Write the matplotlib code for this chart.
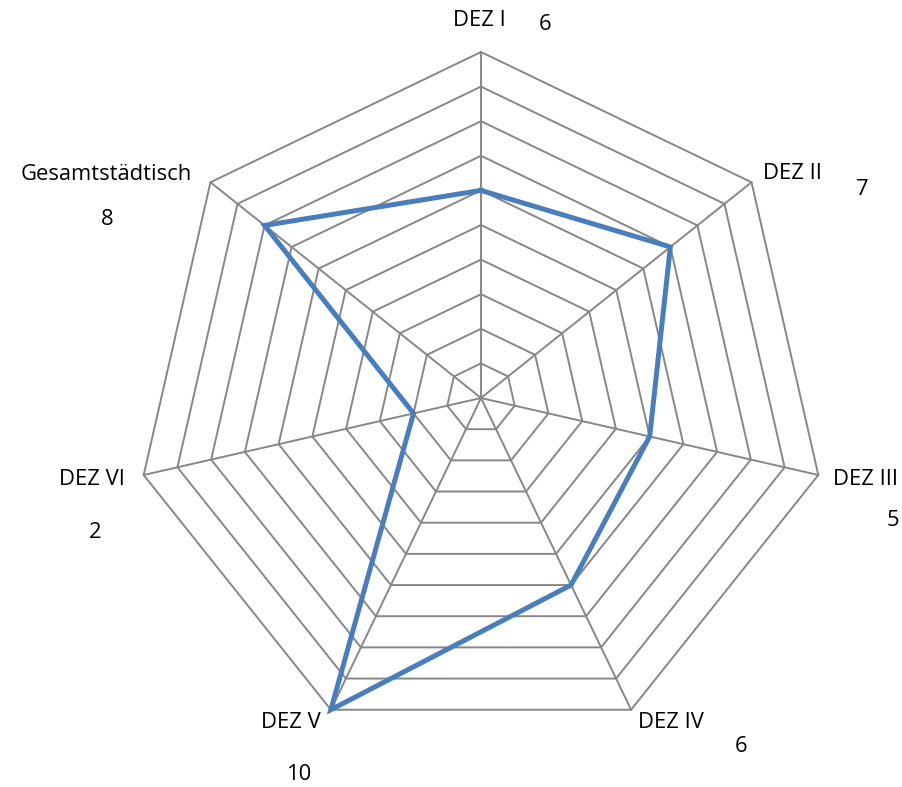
import matplotlib
matplotlib.use("Agg")
import matplotlib.pyplot as plt
import numpy as np

# chart data
categories = ["DEZ I", "DEZ II", "DEZ III", "DEZ IV", "DEZ V", "DEZ VI", "Gesamtstädtisch"]
values = [6, 7, 5, 6, 10, 2, 8]
rmax = 10

# label offsets (pixels) from each outer vertex: name, value
name_off = [(-2, 31), (41, 9), (47, -5), (40, -13), (-40, -13), (-52, -5), (-104, 8)]
val_off = [(64, 27), (111, -7), (75, -46), (110, -37), (-32, -65), (-48, -58), (-103, -37)]

n = len(categories)
ang = np.pi / 2 - 2 * np.pi * np.arange(n) / n
cx, cy = np.cos(ang), np.sin(ang)

fig = plt.figure(figsize=(9.02, 7.87), dpi=100)
ax = fig.add_axes([0, 0, 1, 1])
scale = 34.6  # px per unit
ax.set_xlim(-481 / scale, (902 - 481) / scale)
ax.set_ylim(-(787 - 398) / scale, 398 / scale)
ax.axis("off")

grid_c = "#878787"
# rings
for r in range(1, rmax + 1):
    xs = np.append(cx * r, cx[0] * r)
    ys = np.append(cy * r, cy[0] * r)
    ax.plot(xs, ys, color=grid_c, lw=1.4, zorder=1)
# spokes
for i in range(n):
    ax.plot([0, cx[i] * rmax], [0, cy[i] * rmax], color=grid_c, lw=1.4, zorder=1)

v = np.array(values, dtype=float)
ax.plot(np.append(cx * v, cx[0] * v[0]), np.append(cy * v, cy[0] * v[0]),
        color="#4a7ebb", lw=3.6, zorder=3, solid_joinstyle="miter")

font = ["Open Sans", "DejaVu Sans"]
for i in range(n):
    vx, vy = cx[i] * rmax, cy[i] * rmax
    ax.annotate(categories[i], (vx, vy), xytext=name_off[i], textcoords="offset pixels",
                ha="center", va="center", fontsize=15.8, family=font, color="#000000")
    ax.annotate(str(values[i]), (vx, vy), xytext=val_off[i], textcoords="offset pixels",
                ha="center", va="center", fontsize=15.8, family=font, color="#000000")

fig.savefig("out.png", dpi=100)
